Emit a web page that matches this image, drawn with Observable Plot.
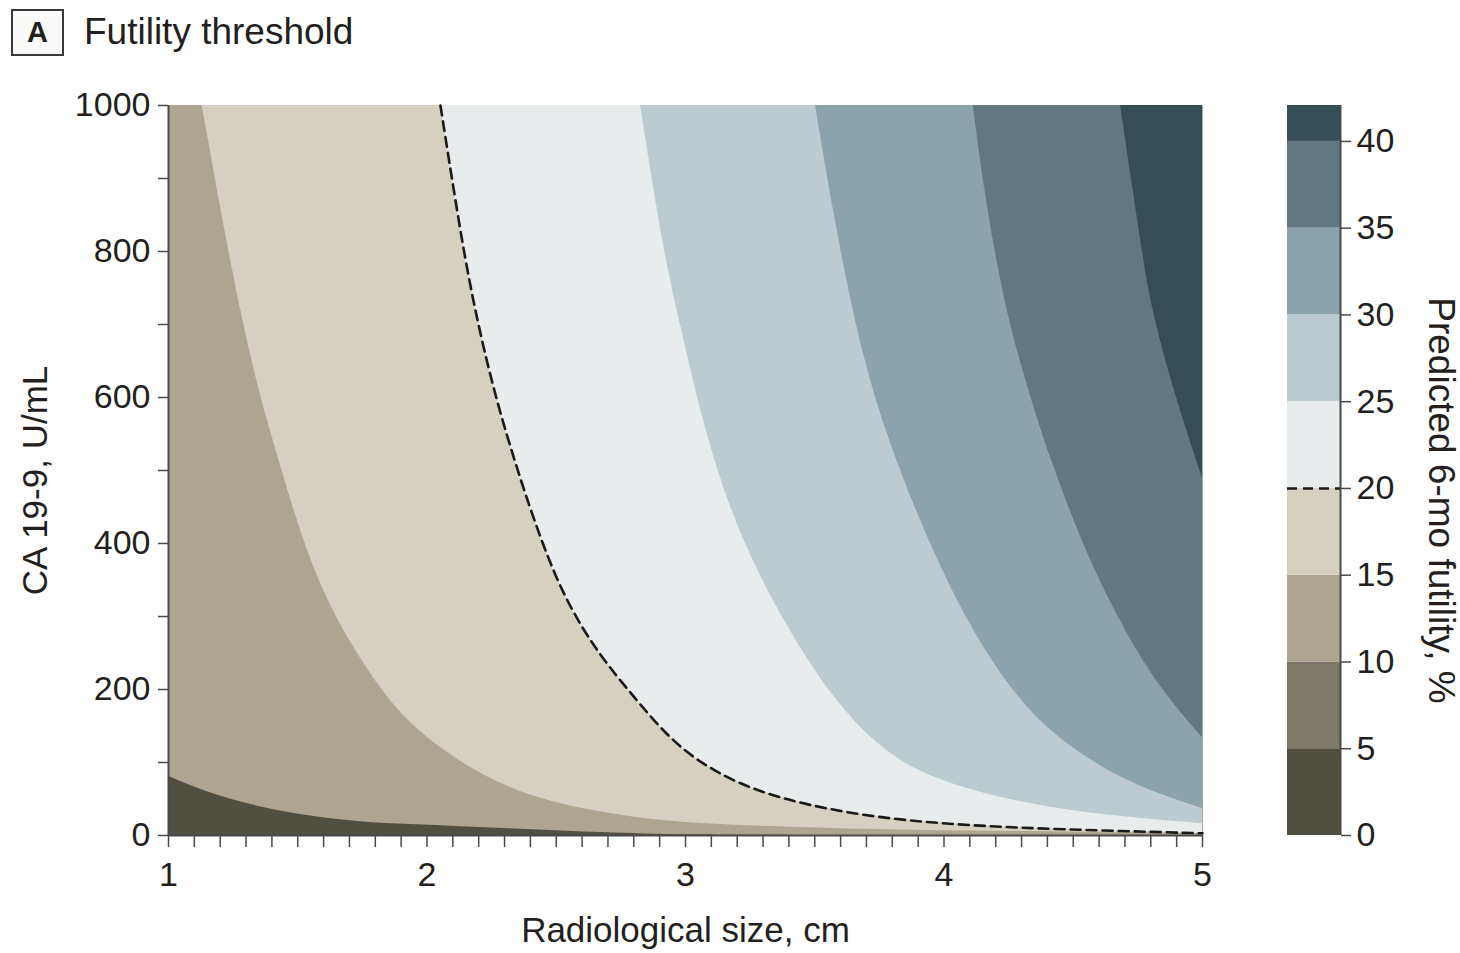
<!DOCTYPE html>
<html>
<head>
<meta charset="utf-8">
<script src="https://cdn.jsdelivr.net/npm/d3@7"></script>
<script src="https://cdn.jsdelivr.net/npm/@observablehq/plot@0.6"></script>
<style>
  html, body { margin: 0; padding: 0; background: #ffffff; }
  #root { position: relative; width: 1460px; height: 953px; font-family: "Liberation Sans", Arial, sans-serif; color: #231f20; }
  #panel { position: absolute; left: 11px; top: 9px; width: 49px; height: 43px; border: 2px solid #3a3a3a; background: #fafaf8;
           font-weight: bold; font-size: 29px; line-height: 43px; text-align: center; }
  #title { position: absolute; left: 84px; top: 13px; font-size: 37px; line-height: 37px; white-space: nowrap; }
  #main { position: absolute; left: 0; top: 60px; }
  #legend { position: absolute; left: 1260px; top: 60px; }
</style>
</head>
<body>
<div id="root">
  <div id="panel">A</div>
  <div id="title">Futility threshold</div>
  <div id="main"></div>
  <div id="legend"></div>
</div>
<script>
// ---------- data ----------
const xLabel = "Radiological size, cm";
const yLabel = "CA 19-9, U/mL";
const legendLabel = "Predicted 6-mo futility, %";

const xMajorTicks = [1, 2, 3, 4, 5];
const xMinorTicks = [1.1,1.2,1.3,1.4,1.5,1.6,1.7,1.8,1.9,2.1,2.2,2.3,2.4,2.5,2.6,2.7,2.8,2.9,
                     3.1,3.2,3.3,3.4,3.5,3.6,3.7,3.8,3.9,4.1,4.2,4.3,4.4,4.5,4.6,4.7,4.8,4.9];
const yMajorTicks = [0, 200, 400, 600, 800, 1000];
const yMinorTicks = [100, 300, 500, 700, 900];
const legendTicks = [0, 5, 10, 15, 20, 25, 30, 35, 40];

// band colours: 0-5, 5-10, 10-15, 15-20, 20-25, 25-30, 30-35, 35-40, >40
const bandLow   = [0, 5, 10, 15, 20, 25, 30, 35, 40];
const bandHigh  = [5, 10, 15, 20, 25, 30, 35, 40, 42.07];
const bandColor = ["#514e42", "#7e7868", "#ada590", "#d6d0c0", "#e8ecec", "#bccbd0", "#8ba3ab", "#62777e", "#354d55"];
const futilityThreshold = 20;

// contour boundaries (radiological size cm, CA 19-9 U/mL); the region above each is filled
const edgeA_size = [1.0, 1.16, 1.36, 1.55, 1.74, 1.94, 2.13, 2.32, 2.5, 2.67, 2.85, 2.98, 3.1, 5.0];
const edgeA_ca   = [81, 57, 38, 26, 18, 15, 12, 9.5, 6.5, 4, 2, 0.8, 0, 0];

const edgeB_size = [1.13, 1.233, 1.291, 1.356, 1.44, 1.524, 1.64, 1.82, 1.95, 2.13, 2.32, 2.5, 2.67, 2.87, 3.1, 3.55, 4.24, 5.0];
const edgeB_ca   = [1000, 799, 699, 599, 499, 399, 299, 199, 147, 99, 64, 44, 32, 21, 15, 9, 5.5, 2.3];

const edgeC_size = [2.052, 2.136, 2.194, 2.265, 2.35, 2.44, 2.536, 2.66, 2.8, 2.92, 3.04, 3.207, 3.413, 3.688, 3.962, 4.236, 4.51, 5.0];
const edgeC_ca   = [1000, 810, 705, 600, 500, 405, 322, 250, 190, 140, 103, 70, 46, 27, 17, 11.4, 7.8, 3];

const edgeD_size = [2.826, 2.916, 2.981, 3.045, 3.123, 3.226, 3.37, 3.5, 3.62, 3.767, 3.96, 4.283, 4.605, 5.0];
const edgeD_ca   = [1000, 799, 699, 599, 499, 399, 300, 225, 168, 115, 76, 45, 28, 16];

const edgeE_size = [3.503, 3.574, 3.638, 3.69, 3.767, 3.896, 4.025, 4.154, 4.283, 4.41, 4.605, 4.8, 5.0];
const edgeE_ca   = [1000, 850, 735, 655, 560, 440, 338, 255, 190, 142, 93, 60, 37];

const edgeF_size = [4.113, 4.154, 4.219, 4.283, 4.348, 4.41, 4.54, 4.67, 4.8, 4.93, 5.0];
const edgeF_ca   = [1000, 889, 755, 663, 586, 518, 395, 300, 220, 162, 134];

const edgeG_size = [4.683, 4.735, 4.774, 4.8, 4.864, 4.93, 5.0];
const edgeG_ca   = [1000, 876, 785, 730, 640, 565, 489];

const yTop = 1000;

// ---------- build tables ----------
const toRows = (sizes, cas) => sizes.map((s, i) => ({size: s, ca: cas[i], top: yTop}));
const edges = [
  {rows: toRows(edgeA_size, edgeA_ca), fill: bandColor[2]},
  {rows: toRows(edgeB_size, edgeB_ca), fill: bandColor[3]},
  {rows: toRows(edgeC_size, edgeC_ca), fill: bandColor[4]},
  {rows: toRows(edgeD_size, edgeD_ca), fill: bandColor[5]},
  {rows: toRows(edgeE_size, edgeE_ca), fill: bandColor[6]},
  {rows: toRows(edgeF_size, edgeF_ca), fill: bandColor[7]},
  {rows: toRows(edgeG_size, edgeG_ca), fill: bandColor[8]}
];
const dashedRows = toRows(edgeC_size, edgeC_ca);
const bands = bandLow.map((lo, i) => ({lo, hi: bandHigh[i], color: bandColor[i]}));

const axisColor = "#4a4a4a";
const textColor = "#231f20";
const fontFam = "Liberation Sans, Arial, sans-serif";
const fmt = d => String(d);

// ---------- main chart ----------
const main = Plot.plot({
  width: 1260,
  height: 893,
  marginLeft: 168,
  marginRight: 58,
  marginTop: 45,
  marginBottom: 118,
  style: {fontFamily: fontFam, fontSize: "34px", color: textColor, background: "white", overflow: "visible"},
  x: {domain: [1, 5]},
  y: {domain: [0, 1000]},
  marks: [
    Plot.frame({fill: bandColor[0], stroke: "none"}),
    ...edges.map(e => Plot.area(e.rows, {x1: "size", y1: "ca", y2: "top", fill: e.fill, curve: "basis"})),
    Plot.line(dashedRows, {x: "size", y: "ca", curve: "basis", stroke: "#1a1a1a", strokeWidth: 2.6, strokeDasharray: "10,6"}),
    Plot.ruleX([1], {stroke: axisColor, strokeWidth: 2}),
    Plot.ruleY([0], {stroke: axisColor, strokeWidth: 2}),
    Plot.axisY(yMajorTicks, {tickSize: 10, tickPadding: 8, tickFormat: fmt, stroke: axisColor, strokeWidth: 1.5, label: null, fontSize: 34, fill: textColor}),
    Plot.axisY(yMinorTicks, {tickSize: 10, tickFormat: () => "", stroke: axisColor, strokeWidth: 1.5, label: null}),
    Plot.axisX(xMajorTicks, {tickSize: 12, tickPadding: 14, tickFormat: fmt, stroke: axisColor, strokeWidth: 1.5, label: null, fontSize: 34, fill: textColor}),
    Plot.axisX(xMinorTicks, {tickSize: 12, tickFormat: () => "", stroke: axisColor, strokeWidth: 1.5, label: null}),
    Plot.text([yLabel], {text: d => d, frameAnchor: "left", dx: -133, dy: 10, rotate: -90, textAnchor: "middle", fontSize: 35, fill: textColor}),
    Plot.text([xLabel], {text: d => d, frameAnchor: "bottom", dy: 106, textAnchor: "middle", fontSize: 35, fill: textColor})
  ]
});
document.getElementById("main").appendChild(main);

// ---------- legend ----------
const legend = Plot.plot({
  width: 200,
  height: 893,
  marginLeft: 27,
  marginRight: 120,
  marginTop: 45,
  marginBottom: 118,
  style: {fontFamily: fontFam, fontSize: "34px", color: textColor, background: "white", overflow: "visible"},
  x: {domain: [0, 1], axis: null},
  y: {domain: [0, 42.07], axis: null},
  color: {type: "identity"},
  marks: [
    Plot.rect(bands, {x1: 0, x2: 1, y1: "lo", y2: "hi", fill: "color"}),
    Plot.ruleY([futilityThreshold], {x1: 0, x2: 1, stroke: "#1a1a1a", strokeWidth: 2.6, strokeDasharray: "10,6"}),
    Plot.ruleX([1], {stroke: axisColor, strokeWidth: 2}),
    Plot.axisY(legendTicks, {anchor: "right", tickSize: 10, tickPadding: 6, tickFormat: fmt, stroke: axisColor, strokeWidth: 1.5, label: null, fontSize: 34, fill: textColor}),
    Plot.text([legendLabel], {text: d => d, frameAnchor: "right", dx: 100, dy: 30, rotate: 90, textAnchor: "middle", fontSize: 37, fill: textColor})
  ]
});
document.getElementById("legend").appendChild(legend);
</script>
</body>
</html>
